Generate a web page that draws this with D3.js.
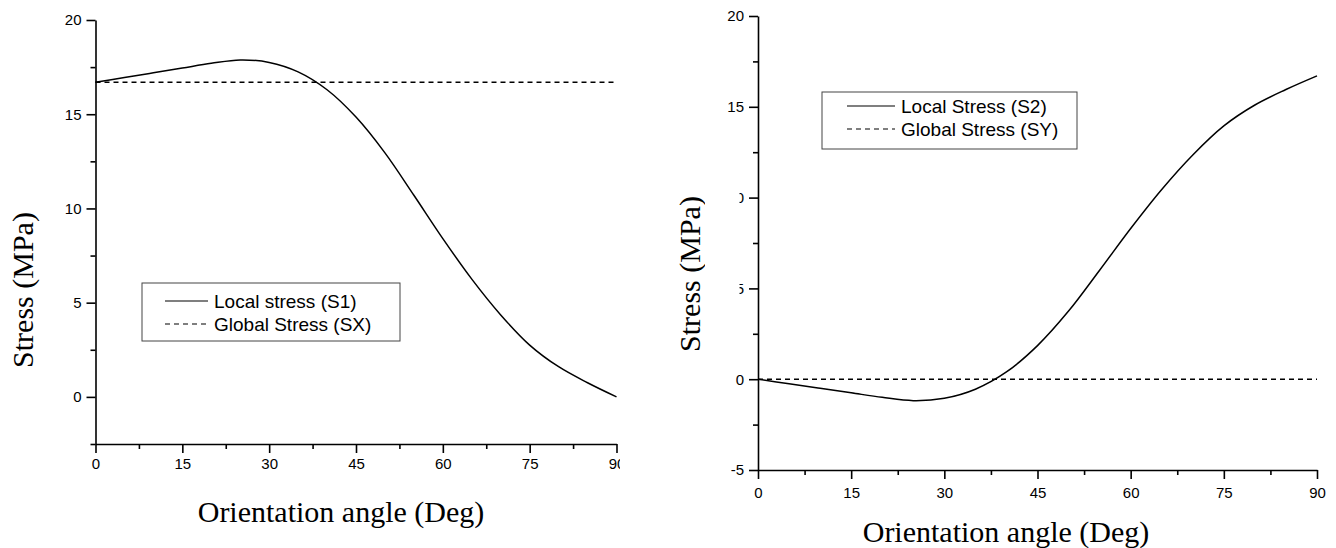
<!DOCTYPE html>
<html>
<head>
<meta charset="utf-8">
<script src="https://cdn.jsdelivr.net/npm/d3@7"></script>
<style>
  body { margin: 0; background: #fff; }
  .tick text { font-family: "Liberation Sans", Arial, sans-serif; font-size: 15px; fill: #000; }
  .axis path, .axis line { stroke: #000; stroke-width: 1.6; }
  .title { font-family: "Liberation Serif", "Times New Roman", serif; font-size: 30px; fill: #000; }
  .legend text { font-family: "Liberation Sans", Arial, sans-serif; font-size: 19px; fill: #000; }
</style>
</head>
<body>
<script>
// angle in degrees
const angles = [0, 5, 10, 15, 20, 25, 30, 35, 40, 45, 50, 55, 60, 65, 70, 75, 80, 85, 90];
const localS1 = [16.7, 16.95, 17.2, 17.45, 17.7, 17.88, 17.75, 17.25, 16.3, 14.85, 12.95, 10.7, 8.4, 6.25, 4.35, 2.75, 1.6, 0.75, 0];
const localS2 = [0, -0.25, -0.5, -0.75, -1.0, -1.18, -1.05, -0.55, 0.4, 1.85, 3.75, 6.0, 8.3, 10.45, 12.35, 13.95, 15.1, 15.95, 16.7];
const globalSX = [16.7, 16.7];
const globalSY = [0, 0];
const globalAngles = [0, 90];

const xTicks = [0, 15, 30, 45, 60, 75, 90];
const xMinor = [7.5, 22.5, 37.5, 52.5, 67.5, 82.5];
const yTicksLeft = [0, 5, 10, 15, 20];
const yMinorLeft = [-2.5, 2.5, 7.5, 12.5, 17.5];
const yTicksRight = [-5, 0, 5, 10, 15, 20];
const yMinorRight = [-2.5, 2.5, 7.5, 12.5, 17.5];

const legendLeft = ["Local stress (S1)", "Global Stress (SX)"];
const legendRight = ["Local Stress (S2)", "Global Stress (SY)"];

const svg = d3.select("body").append("svg")
    .attr("width", 1336)
    .attr("height", 548);

function drawPanel(opt) {
    const x = d3.scaleLinear().domain([0, 90]).range(opt.xRange);
    const y = d3.scaleLinear().domain(opt.yDomain).range(opt.yRange);
    const g = svg.append("g");

    // minor ticks
    g.append("g").attr("class", "axis")
        .attr("transform", `translate(0,${opt.yRange[0]})`)
        .call(d3.axisBottom(x).tickValues(xMinor).tickSize(5).tickFormat(""))
        .select(".domain").remove();
    g.append("g").attr("class", "axis")
        .attr("transform", `translate(${opt.xRange[0]},0)`)
        .call(d3.axisLeft(y).tickValues(opt.yMinor).tickSize(5).tickFormat(""))
        .select(".domain").remove();

    // major ticks
    g.append("g").attr("class", "axis")
        .attr("transform", `translate(0,${opt.yRange[0]})`)
        .call(d3.axisBottom(x).tickValues(xTicks).tickSize(9).tickSizeOuter(0)
            .tickPadding(opt.xPad).tickFormat(d => String(d)));
    g.append("g").attr("class", "axis")
        .attr("transform", `translate(${opt.xRange[0]},0)`)
        .call(d3.axisLeft(y).tickValues(opt.yTicks).tickSize(9).tickSizeOuter(0)
            .tickPadding(5).tickFormat(d => String(d)));

    const line = d3.line()
        .x(d => x(d[0]))
        .y(d => y(d[1]))
        .curve(d3.curveCatmullRom);

    g.append("path")
        .datum(angles.map((a, i) => [a, opt.local[i]]))
        .attr("fill", "none")
        .attr("stroke", "#000")
        .attr("stroke-width", 1.5)
        .attr("d", line);

    g.append("path")
        .datum(globalAngles.map((a, i) => [a, opt.global[i]]))
        .attr("fill", "none")
        .attr("stroke", "#000")
        .attr("stroke-width", 1.5)
        .attr("stroke-dasharray", "5,4")
        .attr("d", line);

    // axis titles
    g.append("text").attr("class", "title")
        .attr("x", opt.xTitle[0]).attr("y", opt.xTitle[1])
        .attr("text-anchor", "middle")
        .text("Orientation angle (Deg)");
    g.append("text").attr("class", "title")
        .attr("transform", `translate(${opt.yTitle[0]},${opt.yTitle[1]}) rotate(-90)`)
        .attr("text-anchor", "middle")
        .text("Stress (MPa)");

    // legend
    const lg = g.append("g").attr("class", "legend")
        .attr("transform", `translate(${opt.legend[0]},${opt.legend[1]})`);
    lg.append("rect")
        .attr("width", opt.legend[2]).attr("height", opt.legend[3])
        .attr("fill", "#fff").attr("stroke", "#444").attr("stroke-width", 1);
    opt.labels.forEach((t, i) => {
        const ly = opt.legendRow0 + i * 23;
        lg.append("line")
            .attr("x1", opt.legendLine[0]).attr("x2", opt.legendLine[1])
            .attr("y1", ly).attr("y2", ly)
            .attr("stroke", "#000").attr("stroke-width", 1.2)
            .attr("stroke-dasharray", i === 1 ? "5,4" : null);
        lg.append("text")
            .attr("x", opt.legendLine[1] + 6).attr("y", ly + 7)
            .text(t);
    });
    return { x, y, g };
}

drawPanel({
    xRange: [95.5, 616.5], yDomain: [-2.5, 20], yRange: [444, 20],
    yTicks: yTicksLeft, yMinor: yMinorLeft, xPad: 5,
    local: localS1, global: globalSX,
    xTitle: [341, 522], yTitle: [33, 290],
    legend: [142, 283, 258, 58], legendRow0: 18, legendLine: [23, 66],
    labels: legendLeft
});

drawPanel({
    xRange: [758, 1317], yDomain: [-5, 20], yRange: [470, 16],
    yTicks: yTicksRight, yMinor: yMinorRight, xPad: 8,
    local: localS2, global: globalSY,
    xTitle: [1006, 542], yTitle: [700, 274],
    legend: [822, 92, 255, 57], legendRow0: 14, legendLine: [25, 73],
    labels: legendRight
});

// parts of the original figure are cut off / covered
svg.append("rect").attr("x", 620).attr("y", 450).attr("width", 40).attr("height", 40).attr("fill", "#fff");
svg.append("rect").attr("x", 705).attr("y", 185).attr("width", 34.5).attr("height", 112).attr("fill", "#fff");
</script>
</body>
</html>
